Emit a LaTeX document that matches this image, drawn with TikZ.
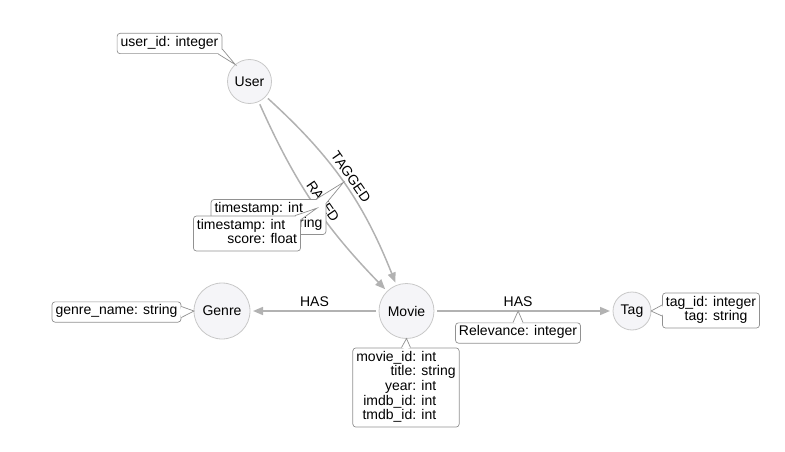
\documentclass[tikz,border=0pt]{standalone}
\usepackage{fontspec}
\setmainfont{Liberation Sans}
\usepackage{xcolor}
\usepackage{tikz}
\definecolor{edgegray}{RGB}{178,178,178}
\definecolor{ringgray}{RGB}{200,200,200}
\definecolor{nodefill}{RGB}{245,245,248}
\definecolor{boxgray}{RGB}{145,145,145}
\tikzstyle{ent} = [circle, draw=ringgray, fill=nodefill, line width=0.8pt, inner sep=0pt, outer sep=0pt]
\tikzstyle{rel} = [draw=edgegray, line width=1.5pt, shorten >=3pt, shorten <=3pt, -{Triangle[length=10pt,width=8pt]}]
\tikzstyle{prop} = [rectangle, draw=boxgray, fill=white, line width=0.7pt, rounded corners=3pt, inner xsep=3.5pt, inner ysep=2.8pt]
\tikzstyle{tipline} = [draw=boxgray, line width=0.7pt]
% pointer of a property box: first base point, tip, second base point, point inside the box
\newcommand{\proptip}[4]{%
  \fill[white] #1 -- #2 -- #3 -- #4 -- cycle;
  \draw[tipline] #1 -- #2 -- #3;}
\usetikzlibrary{arrows.meta}

\begin{document}
\begin{tikzpicture}[x=1pt, y=1pt]
  \tikzstyle{every node}=[font=\fontsize{14}{14.7}\selectfont]
  \useasboundingbox (0,0) rectangle (785,-452);

  % entities
  \node[ent, minimum size=44pt] (User) at (249.5,-81.5) {User};
  \node[ent, minimum size=56pt] (Genre) at (222,-311) {Genre};
  \node[ent, minimum size=55pt] (Movie) at (406.5,-311) {Movie};
  \node[ent, minimum size=38pt] (Tag) at (632,-311) {Tag};

  % relationships
  \draw[rel] (User) to[bend right=10] node[pos=0.52, sloped, above] (rated) {RATED}
    node[pos=0.53, coordinate] (ratedpt) {} (Movie);
  \draw[rel] (User) to[bend left=13] node[pos=0.5, sloped, above] (tagged) {TAGGED}
    node[pos=0.5, coordinate] (taggedpt) {} (Movie);
  \draw[rel] (Movie) -- node[pos=0.5, above] (hasgenre) {HAS} (Genre);
  \draw[rel] (Movie) -- node[pos=0.47, above] (hastag) {HAS}
    node[pos=0.47, coordinate] (hastagpt) {} (Tag);

  % properties
  \node[prop] (userprops) at (169.5,-43.5)
    {\begin{tabular}{@{}r@{: }l@{}}user\_id & integer\end{tabular}};
  \proptip{([xshift=-4pt]userprops.south east)}{(User.130)}{([yshift=5pt]userprops.south east)}{([shift={(-3pt,3pt)}]userprops.south east)}

  \node[prop] (genreprops) at (116.5,-312)
    {\begin{tabular}{@{}r@{: }l@{}}genre\_name & string\end{tabular}};
  \proptip{([yshift=5.5pt]genreprops.east)}{(Genre.west)}{([yshift=-5.5pt]genreprops.east)}{([xshift=-2pt]genreprops.east)}

  \node[prop] (movieprops) at (406,-387.5)
    {\begin{tabular}{@{}r@{: }l@{}}movie\_id & int\\ title & string\\ year & int\\ imdb\_id & int\\ tmdb\_id & int\end{tabular}};
  \proptip{([xshift=-4.5pt]movieprops.north)}{(Movie.south)}{([xshift=4.5pt]movieprops.north)}{([yshift=-2pt]movieprops.north)}

  \node[prop] (hastagprops) at (518,-333)
    {\begin{tabular}{@{}r@{: }l@{}}Relevance & integer\end{tabular}};
  \proptip{([xshift=-5pt]hastagprops.north)}{(hastagpt)}{([xshift=5pt]hastagprops.north)}{([yshift=-2pt]hastagprops.north)}

  \node[prop] (tagprops) at (711,-310.5)
    {\begin{tabular}{@{}r@{: }l@{}}tag\_id & integer\\ tag & string\end{tabular}};
  \proptip{([yshift=5.5pt]tagprops.west)}{(Tag.east)}{([yshift=-5.5pt]tagprops.west)}{([xshift=2pt]tagprops.west)}

  \node[prop] (taggedprops) at (268.5,-217)
    {\begin{tabular}{@{}r@{: }l@{}}timestamp & int\\ tag & string\end{tabular}};
  \proptip{([xshift=-10pt]taggedprops.north east)}{(taggedpt)}{([yshift=-4pt]taggedprops.north east)}{([shift={(-3pt,-3pt)}]taggedprops.north east)}

  \node[prop] (ratedprops) at (247,-233.5)
    {\begin{tabular}{@{}r@{: }l@{}}timestamp & int\\ score & float\end{tabular}};
  \proptip{([xshift=-6pt]ratedprops.north east)}{(ratedpt)}{([yshift=-4pt]ratedprops.north east)}{([shift={(-3pt,-3pt)}]ratedprops.north east)}
\end{tikzpicture}
\end{document}
